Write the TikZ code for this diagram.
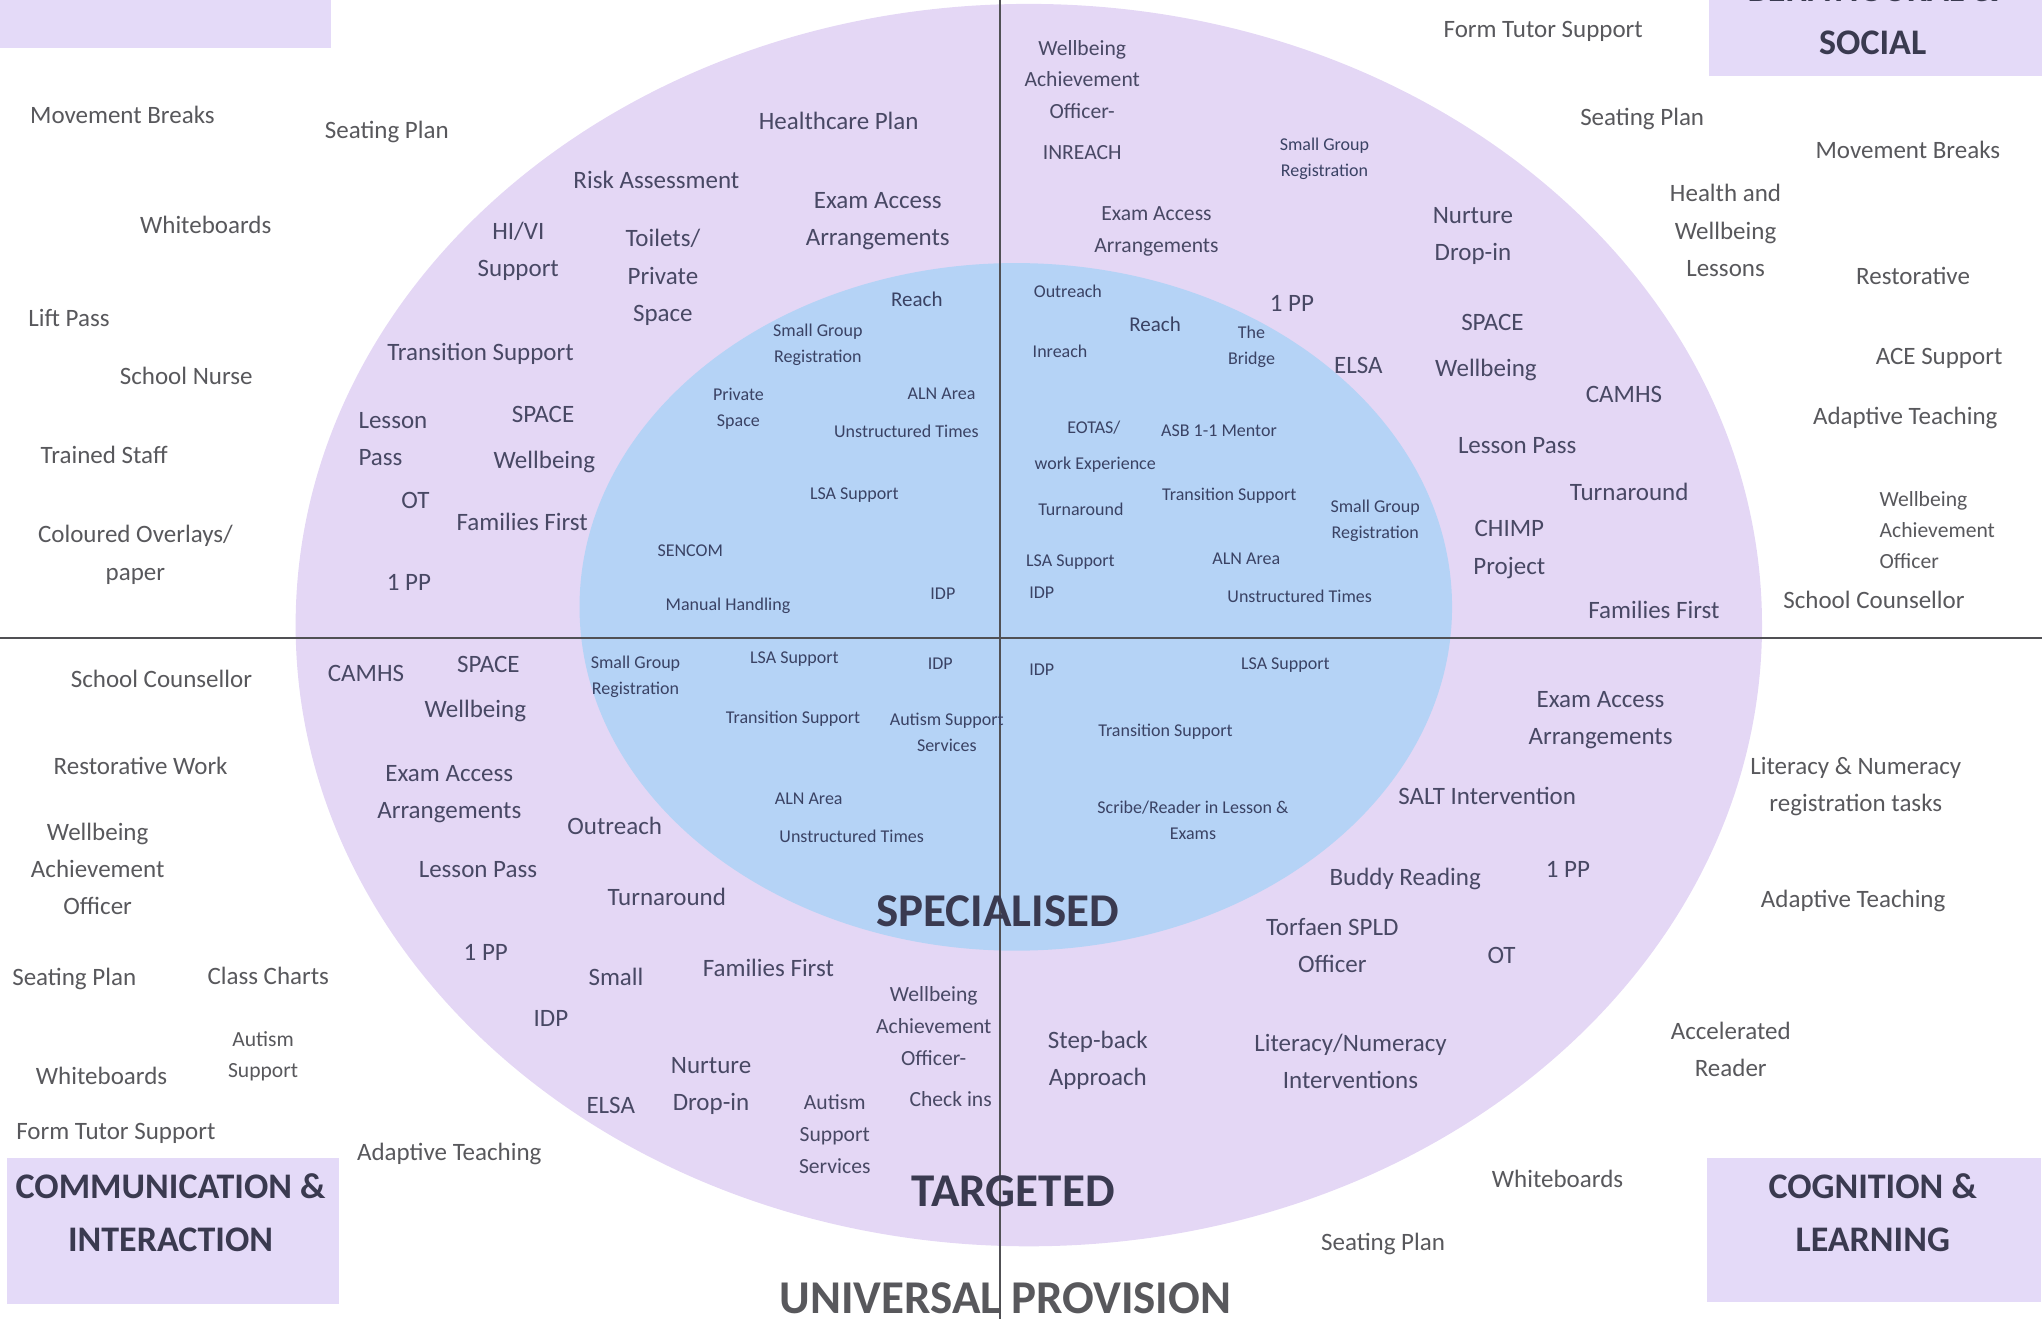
\documentclass[tikz,border=0pt]{standalone}
\usepackage{fontspec}
\setmainfont{Carlito}
\definecolor{ringpurple}{RGB}{228,215,245}
\definecolor{coreblue}{RGB}{181,211,246}
\definecolor{areafill}{RGB}{228,218,248}
\definecolor{unitext}{RGB}{88,88,92}
\definecolor{tgttext}{RGB}{72,72,100}
\definecolor{spctext}{RGB}{58,66,100}
\definecolor{tiertext}{RGB}{58,58,80}
\definecolor{divline}{RGB}{80,80,84}
\tikzset{
  uni/.style    ={inner sep=0pt, align=center, text=unitext, font=\fontsize{12.5}{18.6}\selectfont},
  unis/.style   ={uni, font=\fontsize{10.8}{15.6}\selectfont},
  tgt/.style    ={uni, text=tgttext},
  tgts/.style   ={tgt, font=\fontsize{10.8}{15.9}\selectfont},
  spc/.style    ={inner sep=0pt, align=center, text=spctext, font=\fontsize{9}{13}\selectfont},
  spcl/.style   ={spc, font=\fontsize{10.5}{13}\selectfont},
  tier/.style   ={inner sep=0pt, text=tiertext, font=\bfseries\fontsize{23.5}{28}\selectfont},
  area/.style   ={fill=areafill},
  areatxt/.style={inner sep=0pt, align=center, text=tiertext, font=\bfseries\fontsize{18}{26.7}\selectfont},
  divider/.style={draw=divline, line width=0.7pt},
}
\begin{document}
\begin{tikzpicture}[x=0.6512pt, y=-0.6512pt]
\useasboundingbox (0,0) rectangle (1568,1013);
\clip (0,0) rectangle (1568,1013);
\fill[ringpurple] (790,480) ellipse [x radius=563, y radius=477];
\fill[coreblue] (780,466) ellipse [x radius=335, y radius=264];
\fill[area] (0,0) rectangle (254,37);
\fill[area] (1312,0) rectangle (1568,58);
\fill[area] (5,889) rectangle (260,1001);
\fill[area] (1311,889) rectangle (1567,1000);
\coordinate (vtop) at (768,0); \coordinate (vbot) at (768,1013);
\coordinate (hlft) at (0,490); \coordinate (hrgt) at (1568,490);
\draw[divider] (vtop) -- (vbot);
\draw[divider] (hlft) -- (hrgt);
\node[areatxt] (soc0) at (1438,-8) {BEHAVIOURAL \&};
\node[areatxt] (soc) at (1438,33) {SOCIAL};
\node[areatxt] (comm) at (131,931) {COMMUNICATION \&\\INTERACTION};
\node[areatxt] (cogn) at (1438,931) {COGNITION \&\\LEARNING};
\node[tier, text=unitext] (univ) at (772,997) {UNIVERSAL PROVISION};
\node[tier] (targ) at (778,915) {TARGETED};
\node[tier] (spec) at (766,700) {SPECIALISED};
\node[uni] (u1) at (94,88) {Movement Breaks};
\node[uni] (u2) at (297,101) {Seating Plan};
\node[uni] (u3) at (158,173) {Whiteboards};
\node[uni] (u4) at (53,244) {Lift Pass};
\node[uni] (u5) at (143,289) {School Nurse};
\node[uni] (u6) at (80,349) {Trained Staff};
\node[uni] (u7) at (104,426) {Coloured Overlays/\\paper};
\node[uni] (u8) at (1185,24) {Form Tutor Support};
\node[uni] (u9) at (1261,91) {Seating Plan};
\node[uni] (u10) at (1465,115) {Movement Breaks};
\node[uni] (u11) at (1325,177) {Health and\\Wellbeing\\Lessons};
\node[uni] (u12) at (1469,212) {Restorative};
\node[uni] (u13) at (1489,275) {ACE Support};
\node[uni] (u14) at (1463,321) {Adaptive Teaching};
\node[unis, align=left, anchor=west] (u15) at (1443,407) {Wellbeing\\Achievement\\Officer};
\node[uni] (u16) at (1439,461) {School Counsellor};
\node[uni] (u17) at (124,521) {School Counsellor};
\node[uni] (u18) at (108,588) {Restorative Work};
\node[uni] (u19) at (75,667) {Wellbeing\\Achievement\\Officer};
\node[uni] (u20) at (57,752) {Seating Plan};
\node[uni] (u21) at (206,749) {Class Charts};
\node[unis] (u22) at (202,811) {Autism\\Support};
\node[uni] (u23) at (78,826) {Whiteboards};
\node[uni] (u24) at (89,870) {Form Tutor Support};
\node[uni] (u25) at (345,886) {Adaptive Teaching};
\node[uni] (u26) at (1425,604) {Literacy \& Numeracy\\registration tasks};
\node[uni] (u27) at (1423,692) {Adaptive Teaching};
\node[uni] (u28) at (1329,806) {Accelerated\\Reader};
\node[uni] (u29) at (1196,905) {Whiteboards};
\node[uni] (u30) at (1062,955) {Seating Plan};
\node[tgt] (t1) at (644,93) {Healthcare Plan};
\node[tgt] (t2) at (504,138) {Risk Assessment};
\node[tgt] (t3) at (674,170) {Exam Access\\Arrangements};
\node[tgt] (t4) at (398,193) {HI/VI\\Support};
\node[tgt] (t5) at (509,213) {Toilets/\\Private\\Space};
\node[tgt] (t6) at (369,272) {Transition Support};
\node[tgt, align=left, anchor=west] (t7) at (275,337) {Lesson\\Pass};
\node[tgt] (t8) at (417,318) {SPACE};
\node[tgt] (t9) at (418,355) {Wellbeing};
\node[tgt] (t10) at (319,384) {OT};
\node[tgt] (t11) at (401,401) {Families First};
\node[tgt] (t12) at (314,447) {1 PP};
\node[tgts] (t13) at (831,61) {Wellbeing\\Achievement\\Officer-};
\node[tgts] (t14) at (831,117) {INREACH};
\node[spc] (t15) at (1017,122) {Small Group\\Registration};
\node[tgts] (t16) at (888,178) {Exam Access\\Arrangements};
\node[tgt] (t17) at (1131,181) {Nurture\\Drop-in};
\node[tgt] (t18) at (992,233) {1 PP};
\node[tgt] (t19) at (1043,281) {ELSA};
\node[tgt] (t20) at (1146,248) {SPACE};
\node[tgt] (t21) at (1141,284) {Wellbeing};
\node[tgt] (t22) at (1247,303) {CAMHS};
\node[tgt] (t23) at (1165,342) {Lesson Pass};
\node[tgt] (t24) at (1251,378) {Turnaround};
\node[tgt] (t25) at (1159,422) {CHIMP\\Project};
\node[tgt] (t26) at (1270,468) {Families First};
\node[tgt] (t27) at (281,517) {CAMHS};
\node[tgt] (t28) at (375,510) {SPACE};
\node[tgt] (t29) at (365,546) {Wellbeing};
\node[tgt] (t30) at (345,610) {Exam Access\\Arrangements};
\node[tgt] (t31) at (472,634) {Outreach};
\node[tgt] (t32) at (367,668) {Lesson Pass};
\node[tgt] (t33) at (512,689) {Turnaround};
\node[tgt] (t34) at (373,731) {1 PP};
\node[tgt] (t35) at (473,750) {Small};
\node[tgt] (t36) at (590,743) {Families First};
\node[tgt] (t37) at (423,782) {IDP};
\node[tgts] (t38) at (717,788) {Wellbeing\\Achievement\\Officer-};
\node[tgt] (t39) at (546,834) {Nurture\\Drop-in};
\node[tgt] (t40) at (469,849) {ELSA};
\node[tgts] (t41) at (641,871) {Autism\\Support\\Services};
\node[tgts] (t42) at (730,844) {Check ins};
\node[tgt] (t43) at (1229,553) {Exam Access\\Arrangements};
\node[tgt] (t44) at (1142,611) {SALT Intervention};
\node[tgt] (t45) at (1079,675) {Buddy Reading};
\node[tgt] (t46) at (1204,668) {1 PP};
\node[tgt] (t47) at (1023,726) {Torfaen SPLD\\Officer};
\node[tgt] (t48) at (1153,734) {OT};
\node[tgt] (t49) at (843,814) {Step-back\\Approach};
\node[tgt] (t50) at (1037,815) {Literacy/Numeracy\\Interventions};
\node[spcl] (s1) at (704,230) {Reach};
\node[spc] (s2) at (628,265) {Small Group\\Registration};
\node[spc] (s3) at (567,314) {Private\\Space};
\node[spc] (s4) at (723,302) {ALN Area};
\node[spc] (s5) at (696,331) {Unstructured Times};
\node[spc] (s6) at (656,380) {LSA Support};
\node[spc] (s7) at (530,423) {SENCOM};
\node[spc] (s8) at (559,465) {Manual Handling};
\node[spc] (s9) at (724,456) {IDP};
\node[spc] (s10) at (820,224) {Outreach};
\node[spcl] (s11) at (887,249) {Reach};
\node[spc] (s12) at (814,270) {Inreach};
\node[spc] (s13) at (961,266) {The\\Bridge};
\node[spc] (s14) at (840,328) {EOTAS/};
\node[spc] (s15) at (936,331) {ASB 1-1 Mentor};
\node[spc] (s16) at (841,357) {work Experience};
\node[spc] (s17) at (830,391) {Turnaround};
\node[spc] (s18) at (944,381) {Transition Support};
\node[spc] (s19) at (1056,400) {Small Group\\Registration};
\node[spc] (s20) at (822,432) {LSA Support};
\node[spc] (s21) at (957,429) {ALN Area};
\node[spc] (s22) at (800,455) {IDP};
\node[spc] (s23) at (998,458) {Unstructured Times};
\node[spc] (s24) at (488,520) {Small Group\\Registration};
\node[spc] (s25) at (610,506) {LSA Support};
\node[spc] (s26) at (722,510) {IDP};
\node[spc] (s27) at (609,552) {Transition Support};
\node[spc] (s28) at (727,562) {Autism Support\\Services};
\node[spc] (s29) at (621,613) {ALN Area};
\node[spc] (s30) at (654,642) {Unstructured Times};
\node[spc] (s31) at (800,514) {IDP};
\node[spc] (s32) at (987,511) {LSA Support};
\node[spc] (s33) at (895,562) {Transition Support};
\node[spc] (s34) at (916,630) {Scribe/Reader in Lesson \&\\Exams};
\end{tikzpicture}
\end{document}
